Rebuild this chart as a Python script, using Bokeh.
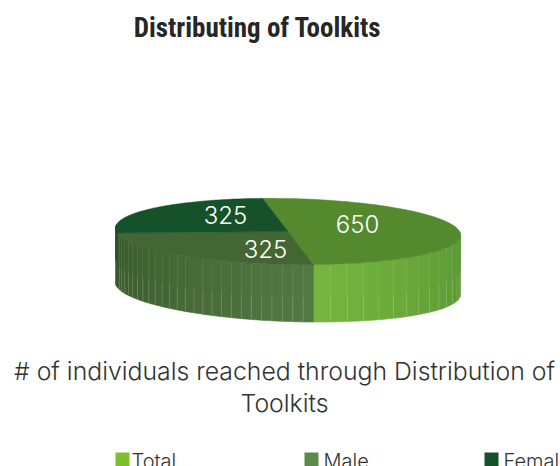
import numpy as np
from bokeh.plotting import figure
from bokeh.models import Range1d
from bokeh.core.properties import value
from bokeh.embed import file_html
from bokeh.resources import INLINE

categories = ["Total", "Male", "Female"]
values = [650, 325, 325]
top_colors = ["#548a2d", "#436632", "#15522a"]
legend_colors = ["#7fbf2e", "#5c8a4a", "#15522a"]
wall_near = [(120, 182, 64), (84, 122, 68), (21, 82, 42)]
wall_far = [(84, 146, 50), (58, 90, 44), (30, 70, 40)]
title = "Distributing of Toolkits"
subtitle = ["# of individuals reached through Distribution of", "Toolkits"]

CX, CY, RX, RY, DEPTH = 287.5, 231.0, 172.5, 33.0, 57.0
START = 351.5
K_TOP, K_BOT = 0.02, 0.035
BODY_FONT = "Inter Light"
TITLE_FONT = "'Roboto Condensed', 'Noto Sans Condensed', 'Open Sans Condensed', 'DejaVu Sans Condensed'"
VIS0, VIS1 = 444.0, 636.0

def top_pt(t):
    r = np.radians(t)
    return CX + RX*np.sin(r), CY - RY*np.cos(r) + K_TOP*RX*np.sin(r)

def bot_pt(t):
    r = np.radians(t)
    return CX + RX*np.sin(r), CY + DEPTH - RY*np.cos(r) + K_BOT*RX*np.sin(r)

p = figure(width=560, height=466, output_backend="svg", toolbar_location=None,
           x_range=Range1d(0, 560), y_range=Range1d(466, 0),
           min_border=0, outline_line_color=None, background_fill_color="white")
p.axis.visible = False
p.grid.visible = False

total = sum(values)
edges = START + np.concatenate([[0], np.cumsum(values)]) * 360.0 / total
steps = [6.0, 3.5, 3.5]

for i in range(3):
    a0, a1 = max(edges[i], VIS0), min(edges[i+1], VIS1)
    if a1 <= a0:
        continue
    n = max(1, int(round((a1 - a0) / steps[i])))
    ts = np.linspace(a0, a1, n + 1)
    for j in range(n):
        mid = (ts[j] + ts[j+1]) / 2
        f = min(1.0, abs(mid - edges[1]) / 90.0)
        col = tuple(int(wall_near[i][c]*(1-f) + wall_far[i][c]*f) for c in range(3))
        hexc = "#%02x%02x%02x" % col
        sub = np.linspace(ts[j], ts[j+1], 4)
        xs = [top_pt(t)[0] for t in sub] + [bot_pt(t)[0] for t in sub[::-1]]
        ys = [top_pt(t)[1] for t in sub] + [bot_pt(t)[1] for t in sub[::-1]]
        p.patch(xs, ys, fill_color=hexc, line_color=hexc, line_width=0.6)
    for t in ts[1:-1]:
        x0, y0 = top_pt(t)
        x1, y1 = bot_pt(t)
        ym = y0 + (y1 - y0) * 0.58
        p.line([x0, x0], [y0, ym], line_color="white", line_alpha=0.05, line_width=1)
        p.line([x0, x1], [ym, y1], line_color="white", line_alpha=0.16, line_width=1)

for i in range(3):
    ts = np.linspace(edges[i], edges[i+1], 90)
    xs = [CX] + [top_pt(t)[0] for t in ts]
    ys = [CY] + [top_pt(t)[1] for t in ts]
    p.patch(xs, ys, fill_color=top_colors[i], line_color=top_colors[i], line_width=0.5)

label_x = [357, 265, 225]
label_y = [223, 248, 214]
p.text(label_x, label_y, text=[str(v) for v in values], text_color="white",
       text_font=value(BODY_FONT), text_font_size="24px",
       text_align="center", text_baseline="middle")

p.text([257], [27], text=[title], text_color="#262626",
       text_font=value(TITLE_FONT), text_font_style="bold",
       text_font_size="27px", text_align="center", text_baseline="middle")

p.text([284, 284], [370, 402], text=subtitle, text_color="#333333",
       text_font=value(BODY_FONT), text_font_size="24.8px",
       text_align="center", text_baseline="middle")

sq_x = [122, 311, 491]
tx_x = [131, 323, 503]
p.rect(sq_x, [459]*3, width=14, height=14, fill_color=legend_colors, line_color=None)
p.text(tx_x, [460]*3, text=categories, text_color="#333333",
       text_font=value(BODY_FONT), text_font_size="20px",
       text_align="left", text_baseline="middle")

open("out.html", "w").write(file_html(p, INLINE))
